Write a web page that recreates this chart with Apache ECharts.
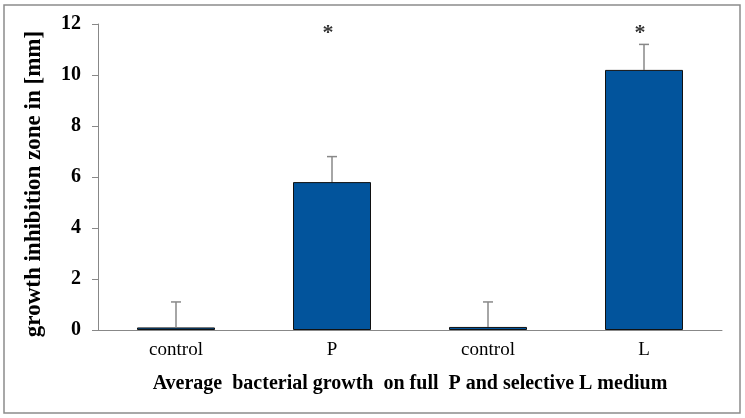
<!DOCTYPE html>
<html>
<head>
<meta charset="utf-8">
<script src="https://cdn.jsdelivr.net/npm/echarts@6/dist/echarts.min.js"></script>
<style>
  html, body { margin: 0; padding: 0; background: #fff; }
  #main { width: 745px; height: 418px; }
</style>
</head>
<body>
<div id="main"></div>
<script>
// groups on the x axis
var categories = ['control', 'P', 'control', 'L'];
// mean growth inhibition zone [mm]
var means = [0.1, 5.8, 0.12, 10.2];
// upper error (SD) added on top of the mean
var errors = [1.0, 1.0, 0.98, 1.0];
// significance markers
var sigMarks = ['', '*', '', '*'];
var sigLevel = 11.75;
var yTicks = [0, 2, 4, 6, 8, 10, 12];

var font = '"Liberation Serif", "Times New Roman", serif';
var myChart = echarts.init(document.getElementById('main'));

var errData = means.map(function (m, i) { return [i, m, m + errors[i]]; });
var sigData = [];
for (var i = 0; i < sigMarks.length; i++) {
    if (sigMarks[i]) sigData.push({ value: [i, sigLevel], mark: sigMarks[i] });
}

var option = {
    animation: false,
    graphic: [{
        type: 'rect',
        shape: { x: 4, y: 5, width: 736, height: 408 },
        style: { fill: 'none', stroke: '#8c8c8c', lineWidth: 1.5 },
        silent: true
    }],
    grid: { left: 98, right: 23, top: 24, bottom: 88 },
    xAxis: {
        type: 'category',
        data: categories,
        name: 'Average  bacterial growth  on full  P and selective L medium',
        nameLocation: 'middle',
        nameGap: 44,
        nameTextStyle: { fontFamily: font, fontWeight: 'bold', fontSize: 20, color: '#000' },
        axisLine: { lineStyle: { color: '#888', width: 1 } },
        axisTick: { show: false },
        axisLabel: { fontFamily: font, fontSize: 19, color: '#000', margin: 11 }
    },
    yAxis: {
        type: 'value',
        min: yTicks[0],
        max: yTicks[yTicks.length - 1],
        interval: 2,
        name: 'growth inhibition zone in [mm]',
        nameLocation: 'middle',
        nameGap: 52,
        nameTextStyle: { fontFamily: font, fontWeight: 'bold', fontSize: 23, color: '#000', padding: [0, 14, 0, 0] },
        axisLine: { show: true, lineStyle: { color: '#888', width: 1 } },
        axisTick: { show: true, length: 6, lineStyle: { color: '#888' } },
        axisLabel: { fontFamily: font, fontWeight: 'bold', fontSize: 20, color: '#000', margin: 17 },
        splitLine: { show: false }
    },
    series: [
        {
            type: 'bar',
            data: means,
            barWidth: '50%',
            itemStyle: { color: '#02549c', borderColor: '#111', borderWidth: 1 },
            z: 2
        },
        {
            type: 'custom',
            data: errData,
            z: 3,
            renderItem: function (params, api) {
                var x = api.value(0);
                var lo = api.coord([x, api.value(1)]);
                var hi = api.coord([x, api.value(2)]);
                var cap = 5;
                var st = { stroke: '#888', lineWidth: 1.5 };
                return {
                    type: 'group',
                    children: [
                        { type: 'line', shape: { x1: lo[0], y1: lo[1], x2: hi[0], y2: hi[1] }, style: st },
                        { type: 'line', shape: { x1: hi[0] - cap, y1: hi[1], x2: hi[0] + cap, y2: hi[1] }, style: st }
                    ]
                };
            }
        },
        {
            type: 'scatter',
            data: sigData,
            symbolSize: 0,
            label: {
                show: true,
                position: 'inside',
                offset: [-4, 3],
                formatter: function (p) { return p.data.mark; },
                fontFamily: font,
                fontWeight: 'bold',
                fontSize: 22,
                color: '#000'
            }
        }
    ]
};

myChart.setOption(option);
</script>
</body>
</html>
